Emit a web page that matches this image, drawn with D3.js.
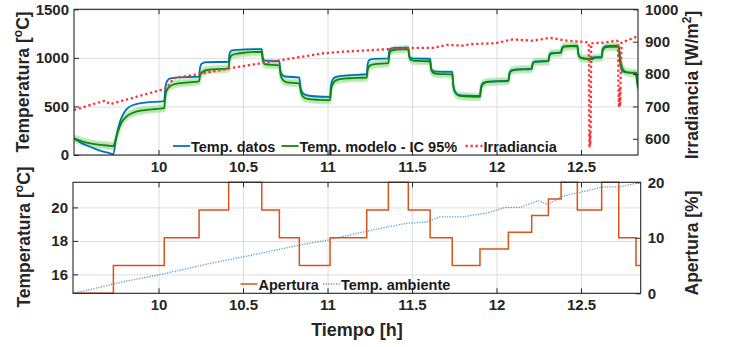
<!DOCTYPE html>
<html>
<head>
<meta charset="utf-8">
<script src="https://cdn.jsdelivr.net/npm/d3@7"></script>
<style>
  body { margin: 0; background: #fff; }
  svg { font-family: 'Liberation Sans', Arial, Helvetica, sans-serif; font-weight: bold; }
  .tick text { fill: #262626; font-size: 15px; font-weight: bold; }
  .tick line { stroke: #262626; }
  .grid line { stroke: #dedede; stroke-width: 1; }
  .grid .domain { display: none; }
  .axis .domain { display: none; }
  .label { fill: #262626; font-size: 17.5px; }
  .legend text { fill: #1a1a1a; font-size: 14.5px; }
</style>
</head>
<body>
<svg id="chart" width="729" height="347"></svg>
<script>
/*
* Temperatura / irradiancia / apertura - two stacked panels
*/

// ---- data ----
let xTicks = [10, 10.5, 11, 11.5, 12, 12.5];
let tempTicks = [0, 500, 1000, 1500];
let irrTicks = [600, 700, 800, 900, 1000];
let ambTicks = [16, 18, 20];
let apTicks = [0, 10, 20];

// Temp. datos [h, degC]
let tempDatos = [
  [9.5, 171], [9.547, 120], [9.595, 85], [9.654, 44], [9.713, 18], [9.733, 10],
  [9.75, 180], [9.765, 300], [9.785, 400], [9.81, 470], [9.85, 515], [9.92, 540], [10.034, 555],
  [10.04, 690], [10.05, 760], [10.07, 790], [10.12, 800], [10.24, 806],
  [10.245, 890], [10.255, 940], [10.28, 955], [10.415, 960],
  [10.42, 1040], [10.43, 1075], [10.46, 1083], [10.611, 1090],
  [10.616, 1010], [10.625, 975], [10.715, 966],
  [10.72, 880], [10.73, 830], [10.75, 808], [10.833, 798],
  [10.84, 700], [10.85, 645], [10.87, 620], [10.92, 605], [11.015, 599],
  [11.02, 710], [11.03, 775], [11.05, 805], [11.12, 820], [11.232, 832],
  [11.237, 930], [11.245, 975], [11.27, 990], [11.36, 995],
  [11.365, 1070], [11.375, 1095], [11.4, 1102], [11.478, 1105],
  [11.483, 1030], [11.49, 1000], [11.51, 993], [11.607, 990],
  [11.612, 905], [11.62, 870], [11.64, 858], [11.738, 855],
  [11.744, 720], [11.755, 650], [11.775, 620], [11.83, 610], [11.902, 608],
  [11.908, 700], [11.92, 740], [11.95, 755], [12.07, 765],
  [12.076, 840], [12.088, 872], [12.12, 882], [12.208, 888],
  [12.213, 940], [12.225, 962], [12.307, 970],
  [12.312, 1025], [12.322, 1048], [12.382, 1056],
  [12.387, 1100], [12.397, 1118], [12.478, 1125],
  [12.484, 1040], [12.495, 1005], [12.52, 995], [12.565, 993], [12.57, 1005], [12.622, 1008],
  [12.627, 1085], [12.637, 1115], [12.66, 1124], [12.723, 1126],
  [12.728, 1000], [12.735, 900], [12.745, 860], [12.77, 850], [12.825, 848],
  [12.83, 780], [12.837, 700]
];

// Temp. modelo [h, degC]
let tempModelo = [
  [9.5, 171], [9.547, 140], [9.595, 120], [9.654, 104], [9.713, 95], [9.733, 92],
  [9.745, 150], [9.76, 240], [9.78, 330], [9.81, 395], [9.85, 435], [9.92, 463], [10.034, 482],
  [10.04, 600], [10.05, 670], [10.07, 710], [10.12, 738], [10.24, 758],
  [10.246, 820], [10.26, 855], [10.29, 875], [10.415, 892],
  [10.42, 980], [10.435, 1030], [10.47, 1045], [10.611, 1062],
  [10.617, 975], [10.63, 935], [10.715, 922],
  [10.722, 830], [10.735, 775], [10.76, 748], [10.833, 738],
  [10.842, 650], [10.855, 600], [10.88, 578], [10.95, 568], [11.015, 565],
  [11.022, 680], [11.035, 745], [11.06, 775], [11.13, 790], [11.232, 798],
  [11.238, 880], [11.25, 920], [11.28, 935], [11.36, 945],
  [11.366, 1040], [11.378, 1075], [11.41, 1085], [11.478, 1090],
  [11.484, 1010], [11.495, 978], [11.52, 968], [11.607, 965],
  [11.613, 880], [11.625, 845], [11.65, 835], [11.738, 830],
  [11.745, 700], [11.758, 635], [11.78, 610], [11.84, 600], [11.902, 598],
  [11.909, 690], [11.922, 735], [11.955, 752], [12.07, 762],
  [12.077, 835], [12.09, 868], [12.125, 880], [12.208, 885],
  [12.214, 935], [12.228, 958], [12.307, 966],
  [12.313, 1020], [12.325, 1045], [12.382, 1053],
  [12.388, 1095], [12.4, 1115], [12.478, 1122],
  [12.485, 1035], [12.497, 1000], [12.525, 990], [12.57, 988], [12.575, 1000], [12.622, 1003],
  [12.628, 1075], [12.64, 1105], [12.665, 1114], [12.723, 1116],
  [12.73, 1010], [12.74, 920], [12.755, 865], [12.78, 848], [12.825, 845],
  [12.831, 770], [12.837, 690]
];
let CI_HALF = 28;  // IC 95% half width, degC

// Irradiancia [h, W/m2]
let irradiancia = [
  [9.5, 689], [9.683, 718], [9.713, 707], [9.871, 730], [10.049, 756], [10.088, 787],
  [10.263, 802], [10.334, 809], [10.423, 818], [10.601, 833], [10.699, 841], [10.855, 854],
  [10.973, 864], [11.092, 869], [11.163, 871], [11.328, 876], [11.429, 879], [11.528, 881],
  [11.624, 881], [11.705, 890], [11.802, 888], [11.861, 893], [11.991, 895], [12.098, 907],
  [12.216, 903], [12.317, 912], [12.417, 903], [12.494, 900], [12.536, 898],
  [12.546, 896], [12.548, 660], [12.55, 571], [12.552, 620], [12.554, 580], [12.557, 640], [12.56, 895],
  [12.63, 897], [12.713, 903],
  [12.718, 900], [12.722, 740], [12.725, 697], [12.728, 760], [12.731, 700], [12.735, 800], [12.74, 897],
  [12.826, 915], [12.837, 916]
];

// Apertura [%], step changes
let apTimes = [9.494, 9.733, 10.034, 10.24, 10.415, 10.611, 10.715, 10.833, 11.015, 11.232, 11.36, 11.478,
  11.607, 11.738, 11.902, 12.07, 12.208, 12.307, 12.382, 12.478, 12.622, 12.723, 12.825, 12.853];
let apValues = [0, 5, 10, 15, 20, 15, 10, 5, 10, 15, 20, 15, 10, 5, 8, 11, 14, 17, 20, 15, 20, 10, 5, 5];

// Temp. ambiente [h, degC]
let tempAmbiente = [
  [9.494, 14.88], [9.6, 15.1], [9.731, 15.43], [9.85, 15.68], [9.997, 15.96], [10.15, 16.3],
  [10.3, 16.65], [10.45, 16.95], [10.541, 17.13], [10.678, 17.42], [10.85, 17.78], [11.003, 18.05],
  [11.15, 18.4], [11.269, 18.65], [11.38, 18.88], [11.47, 19.05], [11.589, 19.14], [11.666, 19.44],
  [11.802, 19.44], [11.95, 19.68], [12.05, 20.0], [12.14, 20.0], [12.246, 20.4], [12.305, 20.18],
  [12.393, 20.68], [12.512, 20.94], [12.63, 21.23], [12.73, 21.23], [12.852, 21.5]
];

let COLORS = {
  datos: '#0072BD',
  modelo: '#0a8a0a',
  band: '#a6dfa0',
  irr: '#ff3333',
  apertura: '#D95319',
  ambiente: '#4a9bd8',
  axis: '#262626'
};

let svg = d3.select('#chart');

// panel boxes (pixels)
let boxTop = { x0: 74, x1: 638, y0: 9.3, y1: 155 };
let boxBot = { x0: 73, x1: 640.7, y0: 182.3, y1: 293.3 };

let xTop = d3.scaleLinear().domain([9.5, 12.837]).range([boxTop.x0, boxTop.x1]);
let yTemp = d3.scaleLinear().domain([0, 1500]).range([boxTop.y1, boxTop.y0]);
let yIrr = d3.scaleLinear().domain([550, 1000]).range([boxTop.y1, boxTop.y0]);

let xBot = d3.scaleLinear().domain([9.494, 12.853]).range([boxBot.x0, boxBot.x1]);
let yAmb = d3.scaleLinear().domain([14.87, 21.5]).range([boxBot.y1, boxBot.y0]);
let yAp = d3.scaleLinear().domain([0, 20]).range([boxBot.y1, boxBot.y0]);

function drawFrame(box, x, yL, lTicks, id) {
  let w = box.x1 - box.x0;
  let h = box.y1 - box.y0;

  svg.append('clipPath').attr('id', id)
    .append('rect')
      .attr('x', box.x0).attr('y', box.y0)
      .attr('width', w).attr('height', h);

  // grid
  svg.append('g').attr('class', 'grid')
    .attr('transform', 'translate(0,' + box.y1 + ')')
    .call(d3.axisBottom(x).tickValues(xTicks).tickSize(-h).tickFormat(''));
  svg.append('g').attr('class', 'grid')
    .attr('transform', 'translate(' + box.x0 + ',0)')
    .call(d3.axisLeft(yL).tickValues(lTicks).tickSize(-w).tickFormat(''));

  return svg.append('g').attr('class', 'plot').attr('clip-path', 'url(#' + id + ')');
}

function drawAxes(box, x, yL, yR, lTicks, rTicks) {
  svg.append('g').attr('class', 'axis')
    .attr('transform', 'translate(0,' + box.y1 + ')')
    .call(d3.axisBottom(x).tickValues(xTicks).tickSizeInner(-5).tickSizeOuter(0).tickPadding(6)
      .tickFormat(d3.format('')));
  svg.append('g').attr('class', 'axis')
    .attr('transform', 'translate(0,' + box.y0 + ')')
    .call(d3.axisTop(x).tickValues(xTicks).tickSizeInner(-5).tickSizeOuter(0).tickFormat(''));
  svg.append('g').attr('class', 'axis')
    .attr('transform', 'translate(' + box.x0 + ',0)')
    .call(d3.axisLeft(yL).tickValues(lTicks).tickSizeInner(-5).tickSizeOuter(0).tickPadding(5)
      .tickFormat(d3.format('d')));
  svg.append('g').attr('class', 'axis')
    .attr('transform', 'translate(' + box.x1 + ',0)')
    .call(d3.axisRight(yR).tickValues(rTicks).tickSizeInner(-5).tickSizeOuter(0).tickPadding(7)
      .tickFormat(d3.format('d')));

  svg.append('rect')
    .attr('x', box.x0).attr('y', box.y0)
    .attr('width', box.x1 - box.x0).attr('height', box.y1 - box.y0)
    .attr('fill', 'none')
    .attr('stroke', COLORS.axis)
    .attr('stroke-width', 1.1);
}

// ---------- top panel ----------
let gTop = drawFrame(boxTop, xTop, yTemp, tempTicks, 'clipTop');

let band = d3.area()
  .x(d => xTop(d[0]))
  .y0(d => yTemp(d[1] - CI_HALF))
  .y1(d => yTemp(d[1] + CI_HALF))
  .curve(d3.curveMonotoneX);

gTop.append('path')
  .attr('d', band(tempModelo))
  .attr('fill', COLORS.band)
  .attr('fill-opacity', 0.6)
  .attr('stroke', COLORS.band)
  .attr('stroke-opacity', 0.6)
  .attr('stroke-width', 3);

let lineTemp = d3.line()
  .x(d => xTop(d[0]))
  .y(d => yTemp(d[1]))
  .curve(d3.curveMonotoneX);

gTop.append('path')
  .attr('d', lineTemp(tempDatos))
  .attr('fill', 'none')
  .attr('stroke', COLORS.datos)
  .attr('stroke-width', 1.8);

gTop.append('path')
  .attr('d', lineTemp(tempModelo))
  .attr('fill', 'none')
  .attr('stroke', COLORS.modelo)
  .attr('stroke-width', 1.8);

let lineIrr = d3.line()
  .x(d => xTop(d[0]))
  .y(d => yIrr(d[1]));

gTop.append('path')
  .attr('d', lineIrr(irradiancia))
  .attr('fill', 'none')
  .attr('stroke', COLORS.irr)
  .attr('stroke-width', 2.3)
  .attr('stroke-dasharray', '2.3,2.7');

drawAxes(boxTop, xTop, yTemp, yIrr, tempTicks, irrTicks);

// ---------- bottom panel ----------
let gBot = drawFrame(boxBot, xBot, yAmb, ambTicks, 'clipBot');

let lineAmb = d3.line()
  .x(d => xBot(d[0]))
  .y(d => yAmb(d[1]));

gBot.append('path')
  .attr('d', lineAmb(tempAmbiente))
  .attr('fill', 'none')
  .attr('stroke', COLORS.ambiente)
  .attr('stroke-width', 1.3)
  .attr('stroke-dasharray', '1.2,1.4');

let lineAp = d3.line()
  .x((d, i) => xBot(apTimes[i]))
  .y(d => yAp(d))
  .curve(d3.curveStepAfter);

svg.append('path')
  .attr('d', lineAp(apValues))
  .attr('fill', 'none')
  .attr('stroke', COLORS.apertura)
  .attr('stroke-width', 1.5);

drawAxes(boxBot, xBot, yAmb, yAp, ambTicks, apTicks);

// ---------- axis labels ----------
function vLabel(x, y, parts) {
  let t = svg.append('text')
    .attr('class', 'label')
    .attr('text-anchor', 'middle')
    .attr('transform', 'translate(' + x + ',' + y + ') rotate(-90)');
  parts.forEach(p => {
    if (p.sup) {
      t.append('tspan').attr('font-size', '12px').attr('dy', '-7').text(p.text);
    } else {
      t.append('tspan').attr('dy', p.back ? '7' : null).text(p.text);
    }
  });
}

vLabel(29, 82, [{ text: 'Temperatura [' }, { text: 'o', sup: true }, { text: 'C]', back: true }]);
vLabel(29.5, 237, [{ text: 'Temperatura [' }, { text: 'o', sup: true }, { text: 'C]', back: true }]);
vLabel(698, 85, [{ text: 'Irradiancia [W/m' }, { text: '2', sup: true }, { text: ']', back: true }]);
vLabel(698, 243, [{ text: 'Apertura [%]' }]);

svg.append('text')
  .attr('class', 'label')
  .attr('x', 357)
  .attr('y', 336)
  .attr('text-anchor', 'middle')
  .style('font-size', '18px')
  .text('Tiempo [h]');

// ---------- legends ----------
function legend(items, y) {
  let g = svg.append('g').attr('class', 'legend');
  items.forEach(it => {
    g.append('line')
      .attr('x1', it.x).attr('x2', it.x + 17)
      .attr('y1', y).attr('y2', y)
      .attr('stroke', it.color)
      .attr('stroke-width', it.width)
      .attr('stroke-dasharray', it.dash);
    g.append('text')
      .attr('x', it.x + 18)
      .attr('y', y + 5.5)
      .text(it.name);
  });
}

legend([
  { name: 'Temp. datos', x: 173, color: COLORS.datos, width: 1.8, dash: null },
  { name: 'Temp. modelo - IC 95%', x: 281.5, color: COLORS.modelo, width: 1.8, dash: null },
  { name: 'Irradiancia', x: 465.5, color: COLORS.irr, width: 2.3, dash: '2.3,2.7' }
], 146);

legend([
  { name: 'Apertura', x: 240.5, color: COLORS.apertura, width: 1.5, dash: null },
  { name: 'Temp. ambiente', x: 323, color: COLORS.ambiente, width: 1.3, dash: '1.2,1.4' }
], 284);
</script>
</body>
</html>
